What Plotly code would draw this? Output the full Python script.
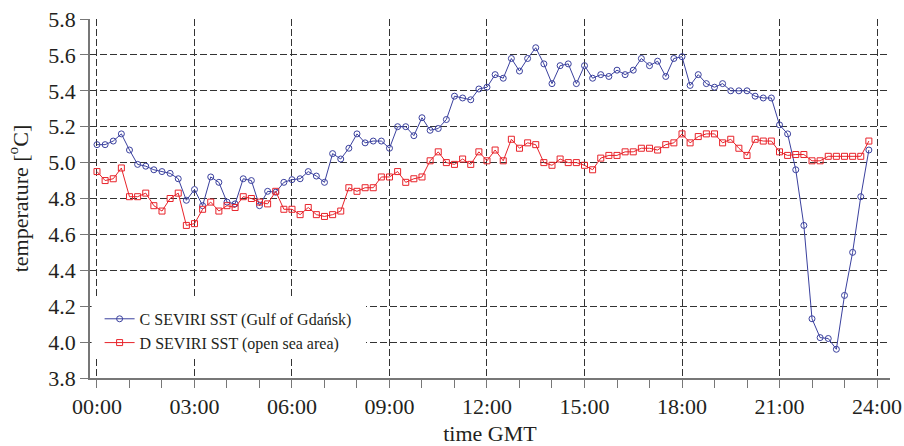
import plotly.graph_objects as go

# 15-minute steps over the day (hours)
hours = [i * 0.25 for i in range(96)]

tick_vals = [0, 3, 6, 9, 12, 15, 18, 21, 24]
tick_text = ["00:00", "03:00", "06:00", "09:00", "12:00", "15:00", "18:00", "21:00", "24:00"]

name_c = "C SEVIRI SST (Gulf of Gdańsk)"
name_d = "D SEVIRI SST (open sea area)"

sst_c = [
    5.10, 5.10, 5.12, 5.16,
    5.07, 4.99, 4.98, 4.96,
    4.95, 4.94, 4.91, 4.79,
    4.85, 4.76, 4.92, 4.89,
    4.78, 4.77, 4.91, 4.90,
    4.76, 4.84, 4.835, 4.89,
    4.905, 4.91, 4.95, 4.925,
    4.89, 5.05, 5.02, 5.08,
    5.16, 5.11, 5.12, 5.12,
    5.08, 5.20, 5.20, 5.15,
    5.25, 5.18, 5.19, 5.24,
    5.37, 5.36, 5.35, 5.41,
    5.42, 5.49, 5.47, 5.58,
    5.51, 5.58, 5.64, 5.55,
    5.44, 5.54, 5.55, 5.44,
    5.54, 5.47, 5.49, 5.48,
    5.515, 5.49, 5.515, 5.58,
    5.54, 5.565, 5.48, 5.58,
    5.59, 5.43, 5.49, 5.44,
    5.42, 5.44, 5.40, 5.40,
    5.40, 5.37, 5.36, 5.36,
    5.21, 5.16, 4.96, 4.65,
    4.13, 4.025, 4.02, 3.96,
    4.26, 4.50, 4.81, 5.07,
]

sst_d = [
    4.95, 4.90, 4.91, 4.97,
    4.81, 4.81, 4.83, 4.76,
    4.73, 4.80, 4.83, 4.65,
    4.66, 4.74, 4.78, 4.73,
    4.76, 4.75, 4.81, 4.80,
    4.78, 4.77, 4.84, 4.74,
    4.74, 4.71, 4.75, 4.71,
    4.70, 4.71, 4.73, 4.86,
    4.84, 4.86, 4.86, 4.92,
    4.92, 4.95, 4.89, 4.91,
    4.92, 5.01, 5.06, 5.00,
    4.99, 5.02, 4.99, 5.06,
    5.01, 5.07, 5.01, 5.13,
    5.08, 5.11, 5.10, 5.00,
    4.985, 5.02, 5.00, 5.00,
    4.985, 4.96, 5.025, 5.04,
    5.04, 5.06, 5.06, 5.08,
    5.08, 5.07, 5.10, 5.11,
    5.16, 5.11, 5.145, 5.16,
    5.16, 5.11, 5.13, 5.08,
    5.04, 5.13, 5.12, 5.12,
    5.06, 5.04, 5.045, 5.045,
    5.01, 5.01, 5.035, 5.035,
    5.035, 5.035, 5.035, 5.12,
]

BLUE = "#3A409E"
RED = "#E8232A"
FONT = "Liberation Serif"
TXT = "#231f20"

fig = go.Figure()
fig.add_trace(go.Scatter(
    x=hours, y=sst_c, name=name_c, mode="lines+markers",
    line=dict(color=BLUE, width=1),
    marker=dict(symbol="circle-open", size=6, color=BLUE, line=dict(width=1, color=BLUE)),
))
fig.add_trace(go.Scatter(
    x=hours, y=sst_d, name=name_d, mode="lines+markers",
    line=dict(color=RED, width=1),
    marker=dict(symbol="square-open", size=6, color=RED, line=dict(width=1, color=RED)),
))

# white box behind legend (hides grid)
fig.add_shape(type="rect", xref="paper", yref="paper",
              x0=0.002, x1=0.345, y0=0.056, y1=0.228,
              fillcolor="white", line=dict(width=0), layer="above")

fig.update_layout(
    width=904, height=446,
    margin=dict(l=90, r=14, t=19, b=68, autoexpand=False),
    paper_bgcolor="white", plot_bgcolor="white",
    font=dict(family=FONT, size=22, color=TXT),
    showlegend=True,
    legend=dict(x=0.012, y=0.212, xanchor="left", yanchor="top",
                bgcolor="rgba(0,0,0,0)", borderwidth=0,
                font=dict(family=FONT, size=16, color=TXT),
                tracegroupgap=0, itemwidth=30),
    xaxis=dict(
        range=[-0.215, 24.4], tickvals=tick_vals, ticktext=tick_text,
        automargin=False,
        showline=True, linecolor="#777", linewidth=1.5,
        ticks="outside", ticklen=8, tickcolor="#777", tickwidth=1,
        showgrid=True, gridcolor="#333", gridwidth=1, griddash="7px,3px",
        zeroline=False,
        minor=dict(dtick=1, tick0=0, ticks="outside", ticklen=8, tickcolor="#777", showgrid=False),
        title=dict(text="time GMT", font=dict(family=FONT, size=22, color=TXT), standoff=10),
        tickfont=dict(family=FONT, size=22, color=TXT),
    ),
    yaxis=dict(
        range=[3.8, 5.8], dtick=0.2, tick0=3.8, tickformat=".1f",
        automargin=False,
        showline=True, linecolor="#777", linewidth=1.5,
        ticks="outside", ticklen=8, tickcolor="#777", tickwidth=1,
        showgrid=True, gridcolor="#333", gridwidth=1, griddash="7px,3px",
        zeroline=False,
        title=dict(text="temperature [<sup>o</sup>C]", font=dict(family=FONT, size=22, color=TXT), standoff=14),
        tickfont=dict(family=FONT, size=22, color=TXT),
    ),
)

fig.write_html("out.html")
